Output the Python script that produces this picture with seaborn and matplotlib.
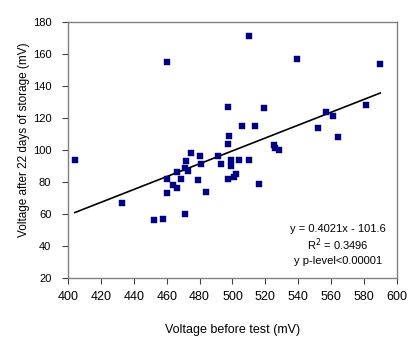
import pandas as pd
import matplotlib
matplotlib.use("Agg")
import matplotlib.pyplot as plt
import seaborn as sns

# values
voltage_before = [404, 433, 452, 458, 471, 460, 460, 464, 466, 466, 469, 471,
                  472, 473, 475, 479, 480, 481, 484, 491, 493, 497, 497, 499,
                  499, 501, 502, 504, 510, 516, 460, 497, 498, 510, 539, 590,
                  519, 506, 514, 557, 561, 581, 552, 564, 525, 526, 528]
voltage_after = [94, 67, 56, 57, 60, 82, 73, 78, 76, 86, 82, 89,
                 93, 87, 98, 81, 96, 91, 74, 96, 91, 104, 82, 94,
                 90, 83, 85, 94, 94, 79, 155, 127, 109, 171, 157, 154,
                 126, 115, 115, 124, 121, 128, 114, 108, 103, 101, 100]

# trend line as printed on the chart
slope = 0.4021
intercept = -101.6
annot_lines = ["y = 0.4021x - 101.6", "R$^2$ = 0.3496", "y p-level<0.00001"]

x_ticks = list(range(400, 601, 20))
y_ticks = list(range(20, 181, 20))

df = pd.DataFrame({"before": voltage_before, "after": voltage_after})
x_end = [min(voltage_before), max(voltage_before)]
trend = pd.DataFrame({"x": x_end, "y": [slope * v + intercept for v in x_end]})

sns.set_style("ticks")
plt.rcParams["font.family"] = ["Liberation Sans", "DejaVu Sans"]

fig = plt.figure(figsize=(4.2, 3.43), dpi=100)
ax = fig.add_axes([0.162, 0.1895, 0.783, 0.7465])

sns.scatterplot(data=df, x="before", y="after", marker="s", s=16,
                color="#000080", edgecolor="#000080", linewidth=0.3, ax=ax, zorder=3)
sns.lineplot(data=trend, x="x", y="y", color="black", linewidth=1.2, ax=ax, zorder=2)

ax.set_xlim(400, 600)
ax.set_ylim(20, 180)
ax.set_xticks(x_ticks)
ax.set_yticks(y_ticks)
ax.tick_params(length=4, width=0.8, color="#404040", labelcolor="black")
ax.tick_params(axis="x", labelsize=9, pad=5)
ax.tick_params(axis="y", labelsize=8, pad=8)

for side in ["top", "right", "bottom", "left"]:
    ax.spines[side].set_visible(True)
    ax.spines[side].set_color("#808080")
    ax.spines[side].set_linewidth(1.0)

ax.set_xlabel("Voltage before test (mV)", fontsize=9, color="black")
ax.set_ylabel("Voltage after 22 days of storage (mV)", fontsize=8.5, color="black")
ax.xaxis.set_label_coords(0.5, -0.18)
ax.yaxis.set_label_coords(-0.115, 0.54)

for i, line in enumerate(annot_lines):
    ax.text(564, 50.6 - i * 10, line, ha="center", va="center", fontsize=8, color="black")

fig.savefig("out.png", dpi=100)
